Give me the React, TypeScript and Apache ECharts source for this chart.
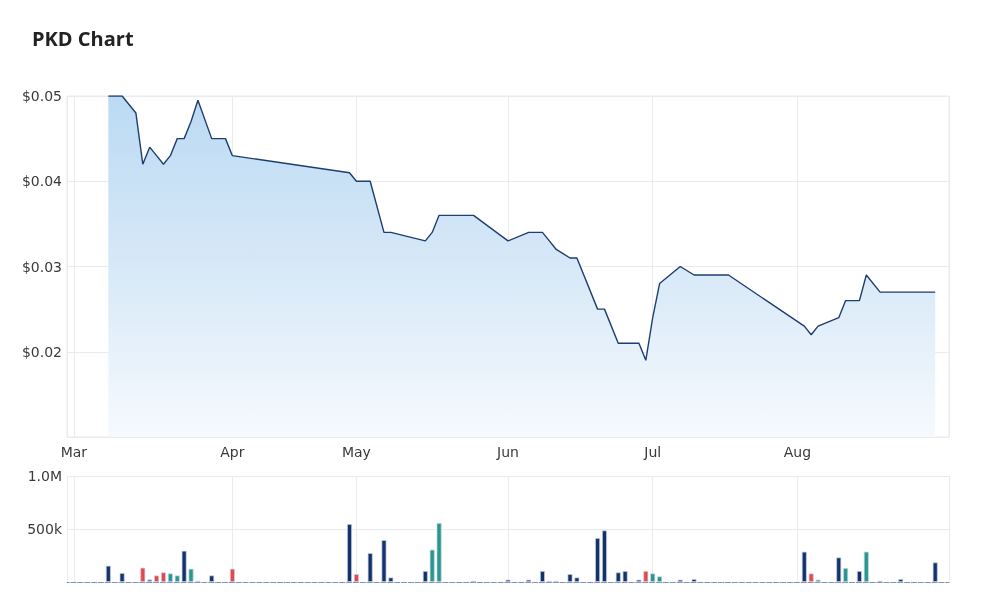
import React, { useEffect, useRef } from "react";
import * as echarts from "echarts";

// Tick labels: months and their number of trading days on the category axis
const monthNames = ["Mar", "Apr", "May", "Jun", "Jul", "Aug"];
const monthTradingDays = [23, 18, 22, 21, 21, 23];

// Price (close) on trading-day index
const priceDay = [5, 7, 9, 10, 11, 12, 13, 14, 15, 16, 17, 18, 20, 22, 23, 40, 41, 43, 45, 46, 51, 52, 53, 58, 63, 66, 68, 69, 70, 72, 73, 76, 77, 79, 80, 82, 83, 84, 85, 88, 90, 95, 106, 107, 108, 111, 112, 114, 115, 117, 120, 125];
const priceValue = [0.05, 0.05, 0.048, 0.042, 0.044, 0.043, 0.042, 0.043, 0.045, 0.045, 0.047, 0.0495, 0.045, 0.045, 0.043, 0.041, 0.04, 0.04, 0.034, 0.034, 0.033, 0.034, 0.036, 0.036, 0.033, 0.034, 0.034, 0.033, 0.032, 0.031, 0.031, 0.025, 0.025, 0.021, 0.021, 0.021, 0.019, 0.024, 0.028, 0.03, 0.029, 0.029, 0.023, 0.022, 0.023, 0.024, 0.026, 0.026, 0.029, 0.027, 0.027, 0.027];

// Volume on trading-day index, with tone: n = unchanged, u = up, d = down
const tradeDay = [5, 7, 10, 11, 12, 13, 14, 15, 16, 17, 18, 20, 23, 40, 41, 43, 45, 46, 51, 52, 53, 58, 63, 66, 68, 69, 70, 72, 73, 76, 77, 79, 80, 82, 83, 84, 85, 88, 90, 106, 107, 108, 111, 112, 114, 115, 117, 120, 125];
const tradeVolume = [154000, 85000, 135000, 25000, 62000, 91000, 81000, 62000, 295000, 125000, 12000, 62000, 125000, 547000, 75000, 273000, 396000, 43000, 104000, 305000, 557000, 12000, 22000, 22000, 104000, 12000, 12000, 75000, 43000, 415000, 487000, 91000, 104000, 22000, 104000, 81000, 53000, 22000, 28000, 286000, 81000, 22000, 232000, 132000, 104000, 286000, 12000, 28000, 185000];
const tradeTone = ["n", "n", "d", "u", "d", "d", "u", "u", "n", "u", "u", "n", "d", "n", "d", "n", "n", "n", "n", "u", "u", "n", "n", "n", "n", "d", "d", "n", "n", "n", "n", "n", "n", "n", "d", "u", "u", "n", "n", "n", "d", "u", "n", "u", "n", "u", "n", "n", "n"];

const toneColors: Record<string, string> = { n: "#14336b", u: "#26998c", d: "#e8474a" };

export default function App() {
  const ref = useRef<HTMLDivElement>(null);

  useEffect(() => {
    if (!ref.current) return;
    const chart = echarts.init(ref.current, null, { renderer: "svg" });

    // categories: one leading pad slot, then each trading day
    const categories: string[] = ["pad"];
    monthNames.forEach((m, mi) => {
      for (let k = 1; k <= monthTradingDays[mi]; k++) categories.push(m + "|" + k);
    });
    const total = categories.length;

    const price: (number | null)[] = new Array(total).fill(null);
    priceDay.forEach((d, i) => (price[d + 1] = priceValue[i]));

    const volume: any[] = new Array(total).fill(null);
    tradeDay.forEach((d, i) => {
      volume[d + 1] = { value: tradeVolume[i], itemStyle: { color: toneColors[tradeTone[i]] } };
    });

    const isMonthStart = (idx: number, val: string) => typeof val === "string" && val.endsWith("|1");
    const isSplit = (idx: number, val: string) => idx === 0 || idx === total - 1 || isMonthStart(idx, val);

    const font = "DejaVu Sans";
    const gridColor = "#ebebeb";

    chart.setOption({
      animation: false,
      title: {
        text: "PKD Chart",
        left: 27,
        top: 23,
        textStyle: { fontFamily: "Open Sans", fontSize: 20, fontWeight: 700, color: "#222" },
      },
      grid: [
        { left: 67, top: 96, width: 882, height: 341, show: true, borderColor: gridColor, borderWidth: 1, backgroundColor: "transparent" },
        { left: 67, top: 476, width: 882, height: 106 },
      ],
      xAxis: [
        {
          type: "category",
          gridIndex: 0,
          data: categories,
          boundaryGap: false,
          axisLine: { show: false },
          axisTick: { show: false },
          axisLabel: {
            interval: isMonthStart,
            formatter: (v: string) => v.split("|")[0],
            fontFamily: font,
            fontSize: 14,
            color: "#3a3a3a",
            margin: 8,
          },
          splitLine: { show: true, interval: isSplit, lineStyle: { color: gridColor } },
        },
        {
          type: "category",
          gridIndex: 1,
          data: categories,
          boundaryGap: false,
          axisLine: { show: true, lineStyle: { color: "#7d93b8", type: [5, 1.89], dashOffset: 2.5, width: 1 } },
          axisTick: { show: false },
          axisLabel: { show: false },
          splitLine: { show: true, interval: isSplit, lineStyle: { color: gridColor } },
        },
      ],
      yAxis: [
        {
          type: "value",
          gridIndex: 0,
          min: 0.01,
          max: 0.05,
          interval: 0.01,
          axisLine: { show: false },
          axisTick: { show: false },
          axisLabel: {
            showMinLabel: false,
            formatter: (v: number) => "$" + v.toFixed(2),
            fontFamily: font,
            fontSize: 14,
            color: "#3a3a3a",
            margin: 5,
          },
          splitLine: { show: true, lineStyle: { color: gridColor } },
        },
        {
          type: "value",
          gridIndex: 1,
          min: 0,
          max: 1000000,
          interval: 500000,
          axisLine: { show: false },
          axisTick: { show: false },
          axisLabel: {
            showMinLabel: false,
            formatter: (v: number) => (v >= 1000000 ? (v / 1000000).toFixed(1) + "M" : v / 1000 + "k"),
            fontFamily: font,
            fontSize: 14,
            color: "#3a3a3a",
            margin: 5,
          },
          splitLine: { show: true, lineStyle: { color: gridColor } },
        },
      ],
      series: [
        {
          type: "line",
          xAxisIndex: 0,
          yAxisIndex: 0,
          data: price,
          connectNulls: true,
          showSymbol: false,
          symbol: "none",
          lineStyle: { color: "#1e3d70", width: 1.4 },
          areaStyle: {
            origin: "start",
            opacity: 1,
            color: new echarts.graphic.LinearGradient(0, 0, 0, 1, [
              { offset: 0, color: "rgb(187,218,243)" },
              { offset: 0.55, color: "rgb(218,234,248)" },
              { offset: 1, color: "rgb(246,250,254)" },
            ]),
          },
        },
        {
          type: "bar",
          xAxisIndex: 1,
          yAxisIndex: 1,
          data: volume,
          barWidth: 5,
          itemStyle: { borderColor: "rgba(200,212,232,0.9)", borderWidth: 0.8 },
        },
      ],
    });

    return () => chart.dispose();
  }, []);

  return <div ref={ref} style={{ position: "fixed", left: 0, top: 0, width: 1000, height: 609 }} />;
}
